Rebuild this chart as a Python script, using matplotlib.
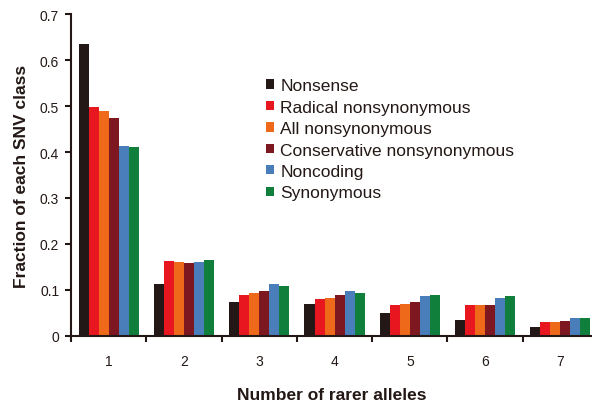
import numpy as np
import matplotlib
matplotlib.use("Agg")
import matplotlib.pyplot as plt

plt.rcParams["font.family"] = ["Liberation Sans", "DejaVu Sans"]

# data
alleles = ["1", "2", "3", "4", "5", "6", "7"]
series = ["Nonsense", "Radical nonsynonymous", "All nonsynonymous",
          "Conservative nonsynonymous", "Noncoding", "Synonymous"]
nonsense     = [0.635, 0.113, 0.073, 0.069, 0.050, 0.034, 0.020]
radical      = [0.497, 0.162, 0.090, 0.080, 0.067, 0.067, 0.030]
all_nonsyn   = [0.490, 0.160, 0.093, 0.083, 0.070, 0.067, 0.030]
conservative = [0.473, 0.159, 0.098, 0.090, 0.073, 0.068, 0.032]
noncoding    = [0.413, 0.161, 0.112, 0.097, 0.087, 0.083, 0.040]
synonymous   = [0.410, 0.166, 0.109, 0.093, 0.089, 0.088, 0.039]
values = [nonsense, radical, all_nonsyn, conservative, noncoding, synonymous]
colors = ["#231815", "#E8161F", "#EE6A1A", "#7D1820", "#4A7EBB", "#0F7F3B"]
ink = "#231815"

fig = plt.figure(figsize=(5.92, 4.06), dpi=100)
ax = fig.add_axes([0.12, 0.170, 0.88, 0.793])

x = np.arange(1, len(alleles) + 1)
w = 0.133
for i, (name, vals, c) in enumerate(zip(series, values, colors)):
    ax.bar(x + (i - 2.5) * w, vals, width=w, color=c, label=name, linewidth=0)

ax.set_xlim(0.5, 7.42)
ax.set_ylim(0, 0.7)
ax.set_yticks(np.arange(0, 0.71, 0.1))
ax.set_yticklabels(["0", "0.1", "0.2", "0.3", "0.4", "0.5", "0.6", "0.7"])

# group boundaries get the tick marks, labels sit in the middle
ax.set_xticks(np.arange(0.5, 7.5, 1.0))
ax.set_xticklabels([])
ax.set_xticks(x, minor=True)
ax.set_xticklabels(alleles, minor=True)
ax.tick_params(axis="x", which="minor", length=0, pad=13, labelsize=10, colors=ink)
ax.tick_params(axis="x", which="major", length=4, width=1.5, direction="out", color=ink)
ax.tick_params(axis="y", length=4, width=1.5, direction="out", labelsize=10, pad=4.5,
               color=ink, labelcolor=ink)

for s in ["top", "right"]:
    ax.spines[s].set_visible(False)
for s in ["left", "bottom"]:
    ax.spines[s].set_linewidth(1.5)
    ax.spines[s].set_color(ink)

ax.set_xlabel("Number of rarer alleles", fontsize=12.5, fontweight="bold", labelpad=14,
              color=ink)
ax.set_ylabel("Fraction of each SNV class", fontsize=12.5, fontweight="bold", color=ink)
ax.yaxis.set_label_coords(-0.081, 0.5)

ax.legend(loc="upper left", bbox_to_anchor=(0.345, 0.849), frameon=False, fontsize=12.5,
          handlelength=0.45, handleheight=0.45, handletextpad=0.35, labelspacing=0.37,
          labelcolor=ink)

fig.savefig("out.png", dpi=100)
